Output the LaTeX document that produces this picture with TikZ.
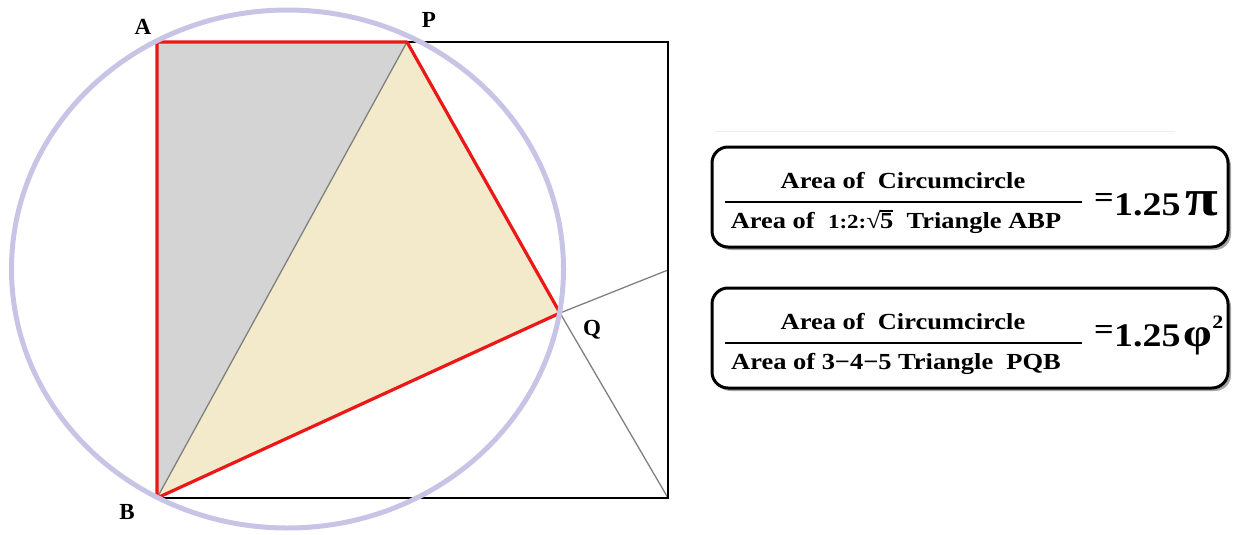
\documentclass[tikz,border=0pt]{standalone}
\usepackage{fontspec}
\setmainfont{Liberation Serif}
\newfontfamily\boxfont[FakeStretch=1.15]{Liberation Serif}
\usetikzlibrary{shadows}
\definecolor{redline}{RGB}{236,24,24}
\definecolor{circcol}{RGB}{200,196,230}
\definecolor{grayfill}{RGB}{212,212,212}
\definecolor{beigefill}{RGB}{242,234,202}
\definecolor{thingray}{RGB}{128,128,128}
\definecolor{faint}{RGB}{238,238,238}
\newcommand{\myroot}[1]{√\kern-0.6pt\vbox{\hrule height 1.3pt\kern 1.2pt\hbox{#1}}}
\tikzset{
  thinline/.style={draw=thingray, line width=1.3},
  sqline/.style={draw=black, line width=2.6},
  redpoly/.style={draw=redline, line width=3.2, line join=round},
  circline/.style={draw=circcol, line width=5},
  ptlabel/.style={font=\fontsize{23}{23}\selectfont\bfseries, inner sep=0pt},
  fbox/.style={draw=black, line width=3, rounded corners=16, fill=white,
    drop shadow={shadow xshift=3pt, shadow yshift=-3pt, opacity=0.35, fill=black}},
  ftext/.style={font=\boxfont\fontsize{23}{23}\selectfont\bfseries, inner sep=0pt},
  fbar/.style={draw=black, line width=1.6},
  eqsign/.style={font=\boxfont\fontsize{30}{30}\selectfont\bfseries, inner sep=0pt},
  bigval/.style={font=\boxfont\fontsize{33}{33}\selectfont\bfseries, inner sep=0pt}
}
\begin{document}
\begin{tikzpicture}[x=1pt,y=-1pt]
\useasboundingbox (0,0) rectangle (1237,535);
% geometry
\coordinate (A) at (157,42);
\coordinate (P) at (407,42);
\coordinate (C) at (668,42);
\coordinate (D) at (668,498);
\coordinate (B) at (157,498);
\coordinate (Q) at (560,313);
\coordinate (R) at (668,270);
\coordinate (O) at (287.5,269);
\fill[grayfill] (A) -- (P) -- (B) -- cycle;
\fill[beigefill] (P) -- (Q) -- (B) -- cycle;
\draw[thinline] (P) -- (B);
\draw[thinline] (Q) -- (R);
\draw[thinline] (Q) -- (D);
\draw[sqline] (P) -- (C) -- (D) -- (B);
\draw[redpoly] (B) -- (A) -- (P) -- (Q) -- cycle;
\draw[circline] (O) ellipse [x radius=276, y radius=259];
% labels
\node[ptlabel] (lA) at (143,27) {A};
\node[ptlabel] (lP) at (429,20) {P};
\node[ptlabel] (lB) at (127,512) {B};
\node[ptlabel] (lQ) at (592,330) {Q};
% faint line above boxes
\coordinate (fl) at (715,131);
\coordinate (fr) at (1175,131);
\draw[faint, line width=1] (fl) -- (fr);
% box 1
\node[fbox, minimum width=516, minimum height=100] (box1) at (970,197) {};
\node[ftext, anchor=base] (n1) at (903,188) {Area of\ \ Circumcircle};
\node[ftext, anchor=base] (d1) at (896,228) {Area of\ \ {\fontsize{20}{20}\selectfont 1:2:{\fontsize{23}{23}\selectfont\myroot{5}}}\ \ Triangle\ ABP};
\coordinate (b1l) at (725,202);
\coordinate (b1r) at (1082,202);
\draw[fbar] (b1l) -- (b1r);
\node[eqsign] (e1) at (1104,200) {=};
\node[bigval, anchor=base west] (v1) at (1114,215) {1.25\hspace{5pt}{\fontsize{52}{52}\selectfont π}};
% box 2
\node[fbox, minimum width=516, minimum height=100] (box2) at (970,338) {};
\node[ftext, anchor=base] (n2) at (903,329) {Area of\ \ Circumcircle};
\node[ftext, anchor=base] (d2) at (896,369) {Area of 3−4−5 Triangle\ \ PQB};
\coordinate (b2l) at (725,343);
\coordinate (b2r) at (1082,343);
\draw[fbar] (b2l) -- (b2r);
\node[eqsign] (e2) at (1104,332.5) {=};
\node[bigval, anchor=base west] (v2) at (1114,346) {1.25\hspace{3pt}{\fontsize{40}{40}\selectfont φ}\raisebox{18pt}{\fontsize{19}{19}\selectfont 2}};
\end{tikzpicture}
\end{document}
